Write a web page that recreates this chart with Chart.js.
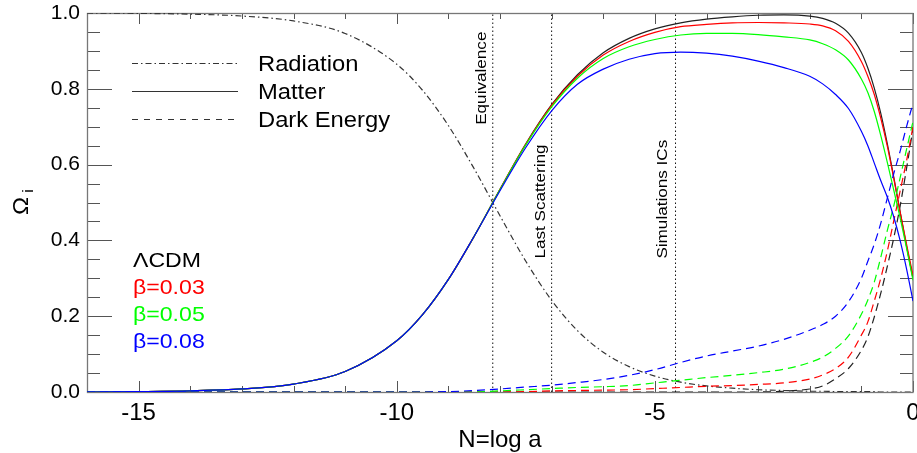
<!DOCTYPE html>
<html>
<head>
<meta charset="utf-8">
<script src="https://cdn.jsdelivr.net/npm/chart.js@4.4.1/dist/chart.umd.min.js"></script>
<style>
    body { margin: 0; background: #fff; }
    canvas { display: block; }
</style>
</head>
<body>
<canvas id="omegaChart" width="917" height="453"></canvas>
<script>
// N = log a, shared by every curve
const nValues = [-16, -15, -14, -13, -12, -11, -10, -9.5, -9, -8.5, -8, -7.5, -7, -6.5, -6, -5.5, -5, -4.5, -4, -3.5, -3, -2.5, -2,
    -1.75, -1.5, -1.25, -1, -0.875, -0.75, -0.625, -0.5, -0.375, -0.25, -0.125, 0];

const radiation = [1.000, 0.999, 0.997, 0.992, 0.979, 0.946, 0.865, 0.796, 0.703, 0.589, 0.465, 0.345, 0.242, 0.162, 0.105, 0.067, 0.042, 0.026, 0.016, 0.010, 0.006, 0.004, 0.002,
    0.002, 0.001, 0.001, 0.001, 0.001, 0.001, 0, 0, 0, 0, 0, 0];

const matterLCDM = [0.000, 0.001, 0.003, 0.008, 0.021, 0.054, 0.135, 0.204, 0.297, 0.411, 0.535, 0.655, 0.758, 0.837, 0.895, 0.933, 0.958, 0.974, 0.984, 0.990, 0.994, 0.995, 0.992,
    0.986, 0.973, 0.947, 0.896, 0.855, 0.802, 0.736, 0.657, 0.569, 0.476, 0.384, 0.300];
const matterB003 = [0.000, 0.001, 0.003, 0.008, 0.021, 0.054, 0.135, 0.204, 0.297, 0.411, 0.535, 0.654, 0.756, 0.833, 0.889, 0.925, 0.949, 0.964, 0.970, 0.974, 0.975, 0.974, 0.971,
    0.966, 0.953, 0.925, 0.872, 0.833, 0.785, 0.723, 0.650, 0.565, 0.475, 0.390, 0.307];
const matterB005 = [0.000, 0.001, 0.003, 0.008, 0.021, 0.054, 0.135, 0.204, 0.297, 0.411, 0.534, 0.652, 0.752, 0.828, 0.880, 0.911, 0.930, 0.942, 0.946, 0.946, 0.943, 0.937, 0.929,
    0.919, 0.903, 0.876, 0.826, 0.790, 0.740, 0.677, 0.607, 0.534, 0.460, 0.380, 0.295];
const matterB008 = [0.000, 0.001, 0.003, 0.008, 0.021, 0.054, 0.135, 0.204, 0.297, 0.411, 0.531, 0.645, 0.742, 0.812, 0.852, 0.878, 0.893, 0.897, 0.894, 0.886, 0.873, 0.856, 0.833,
    0.813, 0.785, 0.748, 0.688, 0.650, 0.604, 0.558, 0.515, 0.463, 0.400, 0.325, 0.240];

const darkLCDM = [0, 0, 0, 0, 0, 0, 0, 0, 0, 0, 0, 0, 0, 0, 0, 0, 0, 0, 0, 0, 0, 0.002, 0.008,
    0.016, 0.035, 0.062, 0.110, 0.145, 0.198, 0.260, 0.330, 0.405, 0.490, 0.590, 0.695];
const darkB003 = [0, 0, 0, 0, 0, 0, 0, 0, 0, 0, 0.000, 0.001, 0.003, 0.004, 0.005, 0.006, 0.009, 0.012, 0.015, 0.017, 0.020, 0.024, 0.034,
    0.045, 0.062, 0.092, 0.150, 0.185, 0.240, 0.300, 0.370, 0.450, 0.530, 0.610, 0.700];
const darkB005 = [0, 0, 0, 0, 0, 0, 0, 0, 0, 0, 0.003, 0.006, 0.009, 0.012, 0.014, 0.017, 0.024, 0.031, 0.038, 0.044, 0.051, 0.060, 0.078,
    0.092, 0.115, 0.148, 0.205, 0.243, 0.290, 0.355, 0.425, 0.490, 0.565, 0.640, 0.714];
const darkB008 = [0, 0, 0, 0, 0, 0, 0, 0, 0.001, 0.004, 0.008, 0.013, 0.018, 0.025, 0.033, 0.044, 0.059, 0.078, 0.095, 0.108, 0.121, 0.139, 0.163,
    0.178, 0.200, 0.238, 0.300, 0.345, 0.390, 0.445, 0.510, 0.575, 0.635, 0.700, 0.762];

const eventN = [-8.14, -7.0, -4.6];
const eventLabels = ['Equivalence', 'Last Scattering', 'Simulations ICs'];

const componentLabels = ['Radiation', 'Matter', 'Dark Energy'];
const modelLabels = ['\u039BCDM', '\u03B2=0.03', '\u03B2=0.05', '\u03B2=0.08'];
const modelColors = ['#222222', '#ff0000', '#00ff00', '#0000ff'];

const FONT = '"Liberation Sans", Arial, Helvetica, sans-serif';
const DASH_DOT = [6, 3, 1.5, 3];
const DASHED = [8, 5];

function toPoints(values) {
    return values.map((v, i) => ({ x: nValues[i], y: v }));
}

function curve(values, color, dash, order) {
    return {
        data: toPoints(values),
        borderColor: color,
        borderWidth: 1.2,
        borderDash: dash,
        pointRadius: 0,
        cubicInterpolationMode: 'monotone',
        fill: false,
        order: order
    };
}

const matterSets = [matterLCDM, matterB003, matterB005, matterB008];
const darkSets = [darkLCDM, darkB003, darkB005, darkB008];

const datasets = [];
eventN.forEach(n => {
    datasets.push({
        data: [{ x: n, y: 0 }, { x: n, y: 1 }],
        borderColor: '#111',
        borderWidth: 1,
        borderDash: [1.5, 2.5],
        pointRadius: 0,
        order: 10
    });
});
datasets.push(curve(radiation, '#333333', DASH_DOT, 6));
matterSets.forEach((vals, i) => {
    datasets.push(curve(vals, modelColors[i], [], 4 - i));
    datasets.push(curve(darkSets[i], modelColors[i], DASHED, 4 - i));
});

function drawStretched(ctx, text, x, y, size, stretch, color, rotate, align) {
    ctx.save();
    ctx.translate(x, y);
    if (rotate) ctx.rotate(rotate);
    ctx.scale(stretch, 1);
    ctx.font = size + 'px ' + FONT;
    ctx.fillStyle = color;
    ctx.textAlign = align || 'left';
    ctx.textBaseline = 'alphabetic';
    ctx.fillText(text, 0, 0);
    ctx.restore();
}

function isMultiple(v, step) {
    return Math.abs(v / step - Math.round(v / step)) < 1e-6;
}

const decorations = {
    id: 'decorations',
    beforeDatasetsDraw(chart) {
        const { ctx, chartArea: a, scales: { x, y } } = chart;
        ctx.save();
        ctx.strokeStyle = '#555';
        ctx.lineWidth = 1;
        ctx.beginPath();
        y.ticks.forEach(t => {
            const py = Math.round(y.getPixelForValue(t.value)) + 0.5;
            const len = isMultiple(t.value, 0.2) ? 25 : 13;
            ctx.moveTo(a.left, py); ctx.lineTo(a.left + len, py);
            ctx.moveTo(a.right - len, py); ctx.lineTo(a.right, py);
        });
        x.ticks.forEach(t => {
            const px = Math.round(x.getPixelForValue(t.value)) + 0.5;
            const len = isMultiple(t.value, 5) ? 11 : 6;
            ctx.moveTo(px, a.bottom); ctx.lineTo(px, a.bottom - len);
            ctx.moveTo(px, a.top); ctx.lineTo(px, a.top + len);
        });
        ctx.stroke();
        ctx.strokeStyle = '#777';
        ctx.lineWidth = 1.3;
        ctx.strokeRect(a.left + 0.5, a.top + 0.5, a.right - a.left - 0.5, a.bottom - a.top);
        ctx.restore();
    },
    afterDraw(chart) {
        const { ctx, scales: { x, y } } = chart;

        // y axis title: Omega with subscript i
        drawStretched(ctx, '\u03A9', 28, 206, 22, 1.1, '#000', -Math.PI / 2, 'center');
        drawStretched(ctx, 'i', 33, 191, 15, 1.1, '#000', -Math.PI / 2, 'center');

        // line style legend
        const styles = [DASH_DOT, [], [6, 6]];
        componentLabels.forEach((label, i) => {
            const ly = 63 + i * 28;
            ctx.save();
            ctx.strokeStyle = '#333';
            ctx.lineWidth = 1;
            ctx.setLineDash(styles[i]);
            ctx.beginPath();
            ctx.moveTo(132, ly + 0.5);
            ctx.lineTo(238, ly + 0.5);
            ctx.stroke();
            ctx.restore();
            drawStretched(ctx, label, 258, ly + 8, 22, 1.08, '#000');
        });

        // model legend
        modelLabels.forEach((label, i) => {
            drawStretched(ctx, label, 133, 267 + i * 27, 21, 1.1, modelColors[i] === '#222222' ? '#000' : modelColors[i]);
        });

        // event labels, rotated, along the dotted lines
        const offsets = [6.5, 6.5, 8.7];
        const starts = [0.705, 0.352, 0.352];
        eventLabels.forEach((label, i) => {
            const px = x.getPixelForValue(eventN[i]) - offsets[i];
            const py = y.getPixelForValue(starts[i]);
            drawStretched(ctx, label, px, py, 14.5, 1.18, '#000', -Math.PI / 2, 'left');
        });
    }
};

new Chart(document.getElementById('omegaChart'), {
    type: 'line',
    data: { datasets: datasets },
    options: {
        responsive: false,
        animation: false,
        devicePixelRatio: 1,
        layout: { padding: { top: 13, right: 4, left: 0, bottom: 0 } },
        plugins: {
            legend: { display: false },
            tooltip: { enabled: false }
        },
        scales: {
            x: {
                type: 'linear',
                min: -16,
                max: 0,
                grid: { display: false, drawTicks: false },
                border: { display: false },
                ticks: {
                    stepSize: 1,
                    maxTicksLimit: 100,
                    autoSkip: false,
                    maxRotation: 0,
                    padding: 7,
                    color: '#000',
                    font: { family: FONT, size: 24 },
                    callback: v => (isMultiple(v, 5) ? String(v) : '')
                },
                title: {
                    display: true,
                    text: 'N=log a',
                    color: '#000',
                    font: { family: FONT, size: 24, lineHeight: 1 },
                    padding: { top: 0, bottom: 1 }
                },
                afterFit(scale) {
                    scale.height = 61;
                    scale.paddingLeft = 0;
                    scale.paddingRight = 0;
                }
            },
            y: {
                min: 0,
                max: 1,
                grid: { display: false, drawTicks: false },
                border: { display: false },
                ticks: {
                    stepSize: 0.05,
                    maxTicksLimit: 100,
                    autoSkip: false,
                    padding: 7,
                    color: '#000',
                    font: { family: FONT, size: 21 },
                    callback: v => (isMultiple(v, 0.2) ? v.toFixed(1) : '')
                },
                afterFit(scale) {
                    scale.width = 87;
                    scale.paddingTop = 0;
                    scale.paddingBottom = 0;
                }
            }
        }
    },
    plugins: [decorations]
});
</script>
</body>
</html>
